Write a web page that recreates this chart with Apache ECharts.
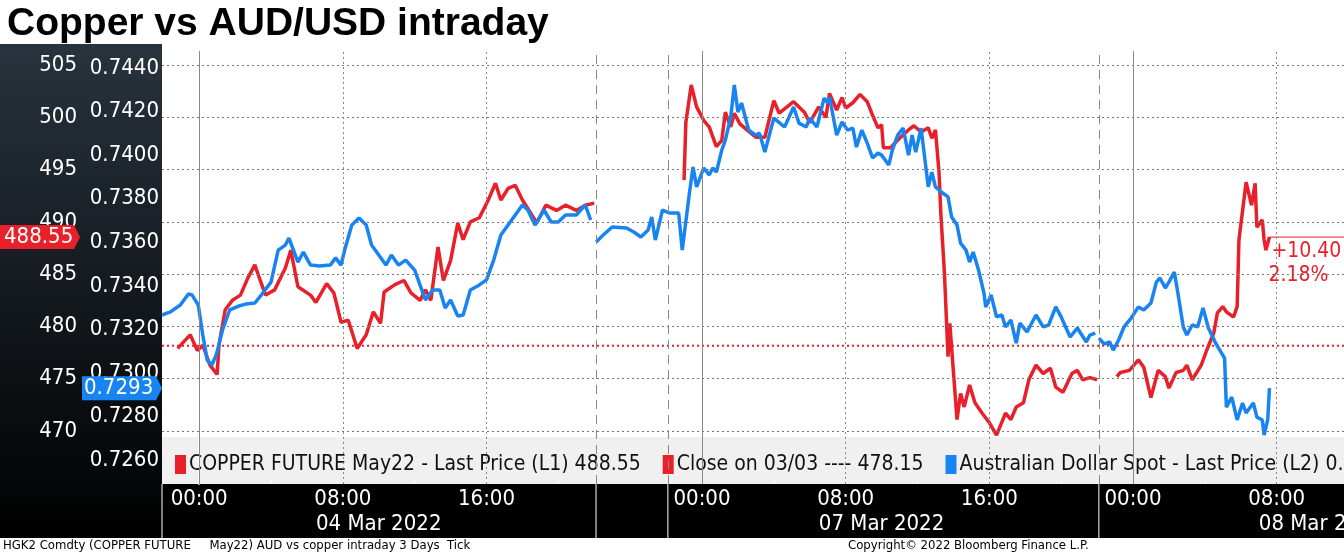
<!DOCTYPE html>
<html><head><meta charset="utf-8">
<script src="https://cdn.jsdelivr.net/npm/echarts@6/dist/echarts.min.js"></script>
<style>html,body{margin:0;padding:0;background:#fff}#c{width:1344px;height:554px}</style>
</head><body><div id="c"></div>
<script>
// time axis: hours on a compressed session scale, 0 = 04 Mar 00:00, 28 = 07 Mar 00:00, 52 = 08 Mar 00:00
const copperT = [-1.2,-0.5,-0.1,0.2,0.6,1.0,1.1,1.45,1.85,2.3,2.7,3.1,3.4,3.7,4.2,4.8,5.1,5.5,6.2,6.5,7.1,7.5,7.9,8.3,8.8,9.3,9.7,10.1,10.3,10.9,11.4,11.8,12.3,12.6,12.9,13.3,13.6,14.0,14.4,14.7,15.1,15.6,16.1,16.5,16.8,17.2,17.6,18.0,18.8,19.3,19.9,20.4,21.0,21.5,22.0,
 24.5,
 27.0,27.1,27.4,27.7,28.1,28.4,28.8,29.1,29.3,29.6,29.8,30.1,30.5,31.0,31.5,32.0,32.3,33.1,33.7,34.0,34.5,34.9,35.1,35.5,35.8,36.0,36.4,36.8,37.2,37.5,37.8,38.0,38.1,38.5,39.0,39.5,39.8,40.2,40.6,40.8,41.0,41.2,41.3,41.5,41.7,41.8,42.2,42.4,42.6,42.9,43.2,43.6,44.0,44.4,44.9,45.2,45.5,45.9,46.2,46.6,47.0,47.4,47.7,48.1,48.6,48.9,49.2,49.6,50.0,
 50.5,
 51.1,51.3,51.8,52.3,52.6,53.0,53.4,53.8,54.0,54.4,54.8,55.0,55.3,55.8,56.1,56.5,56.7,57.0,57.2,57.6,57.8,57.9,58.3,58.6,58.8,58.9,59.2,59.3,59.4,59.6];
const copperV = [477.9,479.2,477.7,478.2,476.3,475.4,478.2,481.6,482.5,483.0,484.6,485.9,484.4,483.0,483.5,485.6,487.3,483.8,483.0,482.3,484.1,483.2,480.4,480.6,477.9,479.2,481.4,480.3,483.3,484.0,484.4,483.2,482.5,483.5,482.5,487.6,484.4,486.3,489.9,488.3,490.0,490.4,492.1,493.7,492.1,493.2,493.5,492.1,489.9,491.6,491.1,491.6,491.1,491.6,491.8,
 null,
 494.0,499.5,503.1,501.0,499.7,499.1,497.2,497.8,500.5,499.1,500.4,499.4,498.8,498.1,498.1,501.6,500.4,501.5,500.5,499.5,501.0,500.0,502.3,500.7,501.9,500.9,501.4,502.2,501.5,500.2,499.0,499.3,497.1,497.1,498.0,498.8,499.2,498.6,499.0,498.0,498.8,494.7,490.8,485.1,477.1,480.3,471.1,473.6,472.3,474.4,472.7,471.7,470.8,469.6,471.7,471.1,472.3,472.7,474.9,476.3,475.5,476.0,474.2,473.7,475.5,475.8,474.9,475.1,474.9,
 null,
 475.2,475.6,475.8,476.8,476.1,473.2,475.8,475.2,474.1,475.6,475.8,476.3,474.9,476.3,477.7,479.4,481.3,481.9,481.4,480.9,481.9,488.3,493.8,491.6,493.7,489.5,490.2,488.3,487.3,488.55];
const audT = [-2.07,-1.6,-1.05,-0.6,-0.4,-0.05,0.2,0.45,0.7,0.95,1.3,1.7,2.2,2.6,3.1,3.5,4.0,4.4,4.8,5.0,5.5,5.8,6.2,6.7,7.3,7.6,7.9,8.1,8.5,8.9,9.3,9.6,10.0,10.4,10.7,11.1,11.5,12.0,12.6,13.0,13.4,13.7,14.0,14.4,14.7,15.1,15.6,16.0,16.4,16.8,17.2,17.6,18.0,18.3,18.7,19.2,19.6,20.0,20.4,21.0,21.5,21.8,
 21.95,
 22.1,22.5,23.0,23.8,24.2,24.6,25.0,25.2,25.4,25.8,26.2,26.7,26.9,27.3,27.5,27.7,28.1,28.4,28.6,28.8,29.1,29.3,29.6,29.8,30.0,30.2,30.6,31.0,31.2,31.5,32.0,32.6,33.1,33.4,33.8,34.0,34.4,34.8,35.0,35.1,35.5,35.8,36.1,36.4,36.6,36.9,37.2,37.5,37.8,38.0,38.4,38.6,38.9,39.2,39.5,39.7,39.9,40.2,40.6,40.8,41.0,41.4,41.7,41.9,42.2,42.4,42.7,42.9,43.1,43.4,43.7,43.8,44.1,44.4,44.7,44.9,45.2,45.5,45.7,46.1,46.6,47.0,47.3,47.7,48.0,48.5,48.9,49.4,49.6,49.9,
 50.0,
 50.1,50.4,50.7,50.9,51.2,51.5,51.9,52.3,52.6,53.0,53.3,53.5,53.8,54.0,54.3,54.5,54.8,55.0,55.3,55.6,55.9,56.2,56.6,57.1,57.2,57.5,57.8,58.1,58.3,58.7,58.9,59.2,59.3,59.5,59.6];
const audV = [0.73266,0.73280,0.73312,0.73362,0.73358,0.73312,0.73174,0.73059,0.73036,0.73082,0.73197,0.73289,0.73307,0.73316,0.73321,0.73362,0.73417,0.73564,0.73587,0.73619,0.73509,0.73555,0.73495,0.73491,0.73495,0.73528,0.73495,0.73564,0.73679,0.73711,0.73679,0.73587,0.73541,0.73495,0.73541,0.73495,0.73518,0.73472,0.73335,0.73381,0.73381,0.73298,0.73335,0.73261,0.73266,0.73381,0.73404,0.73427,0.73518,0.73633,0.73679,0.73725,0.73771,0.73748,0.73679,0.73748,0.73693,0.73693,0.73725,0.73725,0.73771,0.73702,
 null,
 0.73601,0.73633,0.73670,0.73665,0.73647,0.73624,0.73656,0.73716,0.73610,0.73748,0.73734,0.73734,0.73564,0.73826,0.73945,0.73854,0.73941,0.73909,0.73941,0.73922,0.74023,0.74069,0.74175,0.74322,0.74198,0.74239,0.74115,0.74092,0.74101,0.74014,0.74170,0.74129,0.74221,0.74147,0.74129,0.74170,0.74129,0.74262,0.74239,0.74267,0.74092,0.74152,0.74115,0.74124,0.74037,0.74115,0.74055,0.73987,0.74009,0.74000,0.73955,0.74023,0.74092,0.74124,0.74000,0.74092,0.74014,0.74124,0.73854,0.73922,0.73854,0.73826,0.73808,0.73716,0.73679,0.73596,0.73564,0.73509,0.73555,0.73472,0.73367,0.73303,0.73358,0.73257,0.73266,0.73211,0.73243,0.73137,0.73229,0.73188,0.73266,0.73211,0.73220,0.73303,0.73257,0.73165,0.73206,0.73142,0.73174,0.73183,
 null,
 0.73160,0.73133,0.73142,0.73105,0.73151,0.73211,0.73252,0.73303,0.73289,0.73321,0.73417,0.73436,0.73390,0.73417,0.73463,0.73367,0.73211,0.73174,0.73220,0.73211,0.73298,0.73206,0.73137,0.73068,0.72843,0.72889,0.72784,0.72862,0.72816,0.72862,0.72797,0.72784,0.72715,0.72784,0.72930];
const closeValue = 478.15;
const copperTicks = [470,475,480,485,490,495,500,505];
const audTicks = [0.7260,0.7280,0.7300,0.7320,0.7340,0.7360,0.7380,0.7400,0.7420,0.7440];
const timeTickValues = [0,8,16,28,36,44,52,60];
const timeTickLabels = ['00:00','08:00','16:00','00:00','08:00','16:00','00:00','08:00'];
const dateTickValues = [10,38,62.5];
const dateTickLabels = ['04 Mar 2022','07 Mar 2022','08 Mar 2022'];
const minorTimeTicks = [-2,0,4,8,12,16,20,28,32,36,40,44,48,52,56,60];
const dayStarts = [0,28,52];
const midDayLines = [8,16,36,44,60];
const sessionBreaks = [22.1,26.1,50.1];
const seriesNames = ['COPPER FUTURE May22 - Last Price (L1)','Close on 03/03 ----','Australian Dollar Spot - Last Price (L2)'];

const RED='#e8202a', BLUE='#1884f2';
const FONT="'Liberation Sans Narrow','DejaVu Sans Condensed',sans-serif";
const XMIN=-2.07, XMAX=63.75;
const lastCopper = copperV[copperV.length-1];
const lastAud = audV[audV.length-1];
const diff = lastCopper - closeValue;
const pct = diff/closeValue*100;

const chart = echarts.init(document.getElementById('c'));
const gl = (v,type,color)=>({xAxis:v,lineStyle:{type:type,color:color,width:1}});
chart.setOption({
  animation:false,
  title:{text:'Copper vs AUD/USD intraday',left:2,top:0,textStyle:{fontFamily:'Liberation Sans, Arial, sans-serif',fontWeight:'bold',fontSize:39,color:'#000'}},
  grid:{left:162,right:0,top:51,bottom:70,outerBoundsMode:'none',containLabel:false},
  legend:{left:170,top:449,width:3000,itemGap:22,itemWidth:11,itemHeight:19,icon:'rect',
    data:seriesNames.map(n=>({name:n})),
    formatter:n=>{const i=seriesNames.indexOf(n);return n+' '+(i===0?lastCopper.toFixed(2):i===1?closeValue.toFixed(2):lastAud.toFixed(4));},
    textStyle:{color:'#111',fontSize:21,fontFamily:FONT,padding:[0,0,0,-2]}},
  xAxis:[{type:'value',min:XMIN,max:XMAX,position:'bottom',
    axisLine:{show:false},splitLine:{show:false},
    axisTick:{show:true,inside:true,length:5,lineStyle:{color:'#fff'},customValues:minorTimeTicks},
    axisLabel:{color:'#fff',fontSize:22,fontFamily:FONT,margin:4,customValues:timeTickValues,
      formatter:v=>{const i=timeTickValues.findIndex(x=>Math.abs(x-v)<1e-6);return i>=0?timeTickLabels[i]:'';}}},
   {type:'value',min:XMIN,max:XMAX,position:'bottom',offset:25,
    axisLine:{show:false},splitLine:{show:false},axisTick:{show:false},
    axisLabel:{color:'#fff',fontSize:22,fontFamily:FONT,margin:4,customValues:dateTickValues,showMaxLabel:true,
      formatter:v=>{const i=dateTickValues.findIndex(x=>Math.abs(x-v)<1e-6);return i>=0?dateTickLabels[i]:'';}}}],
  yAxis:[{type:'value',min:464.93,max:506.35,position:'left',offset:82,
    axisLine:{show:true,lineStyle:{color:'#fff',width:1.5}},splitLine:{show:false},
    axisTick:{show:true,length:5,lineStyle:{color:'#fff'},customValues:copperTicks},
    axisLabel:{color:'#fff',fontSize:22,fontFamily:FONT,margin:3,customValues:copperTicks}},
   {type:'value',min:0.72490,max:0.74478,position:'left',offset:0,
    axisLine:{show:true,lineStyle:{color:'#fff',width:1.5}},splitLine:{show:false},
    axisTick:{show:true,length:5,lineStyle:{color:'#fff'},customValues:audTicks},
    axisLabel:{color:'#fff',fontSize:22,fontFamily:FONT,margin:3,customValues:audTicks,formatter:v=>v.toFixed(4)}}],
  series:[
    {name:seriesNames[1],type:'line',xAxisIndex:0,yAxisIndex:0,symbol:'none',z:1,
     data:[[XMIN,closeValue],[XMAX,closeValue]],lineStyle:{color:RED,width:2,type:[2,3]},itemStyle:{color:RED},
     markLine:{silent:true,symbol:'none',label:{show:false},animation:false,
       data:copperTicks.map(v=>({yAxis:v,lineStyle:{type:[2,3],color:'#777',width:1}}))
        .concat(dayStarts.map(v=>gl(v,'solid','#888')))
        .concat(midDayLines.map(v=>gl(v,[2,3],'#888')))
        .concat(sessionBreaks.map(v=>gl(v,[9,6],'#888')))}},
    {name:seriesNames[0],type:'line',xAxisIndex:0,yAxisIndex:0,symbol:'none',z:3,connectNulls:false,
     data:copperT.map((t,i)=>[t,copperV[i]]),lineStyle:{color:RED,width:3.5},itemStyle:{color:RED}},
    {name:seriesNames[2],type:'line',xAxisIndex:0,yAxisIndex:1,symbol:'none',z:4,connectNulls:false,
     data:audT.map((t,i)=>[t,audV[i]]),lineStyle:{color:BLUE,width:3.5},itemStyle:{color:BLUE}}
  ]
});

const yC = chart.convertToPixel({yAxisIndex:0},lastCopper);
const yA = chart.convertToPixel({yAxisIndex:1},lastAud);
const xLast = chart.convertToPixel({xAxisIndex:0},copperT[copperT.length-1]);
const xp = t=>chart.convertToPixel({xAxisIndex:0},t);
const g = [
  {type:'rect',z:-10,shape:{x:0,y:44,width:162,height:494},style:{fill:new echarts.graphic.LinearGradient(0,0,0,1,[{offset:0,color:'#28333d'},{offset:1,color:'#000'}])}},
  {type:'rect',z:-10,shape:{x:162,y:484,width:1182,height:54},style:{fill:'#000'}},
  {type:'rect',z:-10,shape:{x:162,y:437,width:1182,height:47},style:{fill:'#f0f0f0'}},
  {type:'polygon',z:100,shape:{points:[[0,yC-12],[74,yC-12],[80,yC],[74,yC+12],[0,yC+12]]},style:{fill:RED}},
  {type:'text',z:101,x:4,y:yC,style:{text:lastCopper.toFixed(2),fill:'#fff',font:'22px '+FONT,textVerticalAlign:'middle'}},
  {type:'polygon',z:100,shape:{points:[[82,yA-12],[156,yA-12],[162,yA],[156,yA+12],[82,yA+12]]},style:{fill:BLUE}},
  {type:'text',z:101,x:84,y:yA,style:{text:lastAud.toFixed(4),fill:'#fff',font:'22px '+FONT,textVerticalAlign:'middle'}},
  {type:'line',z:100,shape:{x1:xLast,y1:yC,x2:1344,y2:yC},style:{stroke:RED,lineWidth:1}},
  {type:'text',z:100,x:xLast+2,y:yC+14,style:{text:(diff>=0?'+':'')+diff.toFixed(2),fill:RED,font:'21px '+FONT,textVerticalAlign:'middle'}},
  {type:'text',z:100,x:xLast-1,y:yC+38,style:{text:pct.toFixed(2)+'%',fill:RED,font:'21px '+FONT,textVerticalAlign:'middle'}},
  {type:'text',z:100,x:3,y:546,style:{text:'HGK2 Comdty (COPPER FUTURE     May22) AUD vs copper intraday 3 Days  Tick',fill:'#000',font:'13px '+FONT,textVerticalAlign:'middle'}},
  {type:'text',z:100,x:848,y:546,style:{text:'Copyright\u00a9 2022 Bloomberg Finance L.P.',fill:'#000',font:'13px '+FONT,textVerticalAlign:'middle'}}
];
sessionBreaks.forEach(t=>{const x=xp(t);g.push({type:'line',z:100,shape:{x1:x,y1:484,x2:x,y2:538},style:{stroke:'#fff',lineWidth:1}});});
g.push({type:'line',z:100,shape:{x1:162,y1:484,x2:162,y2:538},style:{stroke:'#fff',lineWidth:1}});
chart.setOption({graphic:g});
</script></body></html>
